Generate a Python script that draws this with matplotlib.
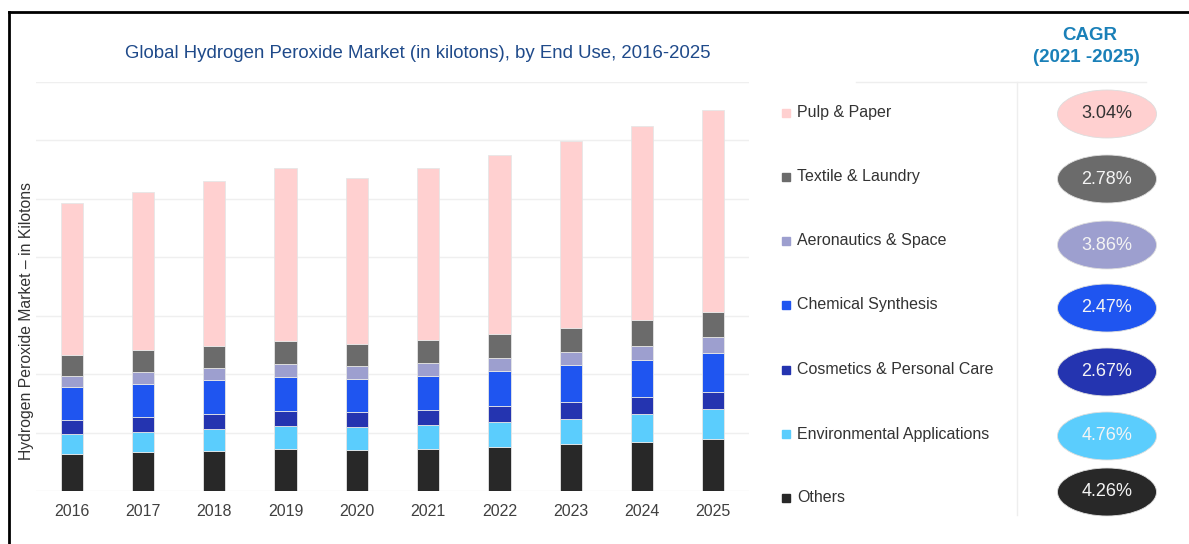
import numpy as np
import matplotlib
matplotlib.use("Agg")
import matplotlib.pyplot as plt
from matplotlib.patches import Ellipse, Rectangle
from matplotlib.lines import Line2D

plt.rcParams["font.family"] = ["Liberation Sans", "DejaVu Sans"]

YEARS = ["2016", "2017", "2018", "2019", "2020", "2021", "2022", "2023", "2024", "2025"]

# kilotons per end use, bottom segment first
OTHERS = [634, 663, 685, 724, 707, 724, 753, 800, 844, 890]
ENVIRONMENTAL = [342, 348, 372, 384, 384, 401, 423, 438, 474, 508]
COSMETICS = [245, 257, 257, 267, 257, 267, 274, 291, 286, 301]
CHEMICAL = [565, 565, 587, 582, 575, 582, 599, 623, 644, 657]
AERONAUTICS = [188, 211, 205, 217, 212, 212, 228, 223, 240, 274]
TEXTILE = [360, 372, 377, 394, 382, 399, 406, 411, 440, 433]
PULP = [2592, 2700, 2830, 2962, 2847, 2945, 3065, 3207, 3322, 3459]

SEGMENTS = ["Others", "Environmental Applications", "Cosmetics & Personal Care",
            "Chemical Synthesis", "Aeronautics & Space", "Textile & Laundry", "Pulp & Paper"]
CAGR = ["4.26%", "4.76%", "2.67%", "2.47%", "3.86%", "2.78%", "3.04%"]
COLORS = ["#282828", "#5bcdfd", "#2434b0", "#1f55f0", "#9d9fcf", "#6b6b6b", "#ffd0d0"]
VALUES = [OTHERS, ENVIRONMENTAL, COSMETICS, CHEMICAL, AERONAUTICS, TEXTILE, PULP]

W, H = 1189, 544
fig = plt.figure(figsize=(W / 100, H / 100), dpi=100)

# main stacked bar chart
ax = fig.add_axes([36 / W, 1 - 491 / H, (749 - 36) / W, (491 - 82) / H])
x = np.arange(len(YEARS))
bottom = np.zeros(len(YEARS))
for name, vals, col in zip(SEGMENTS, VALUES, COLORS):
    ax.bar(x, vals, 0.31, bottom=bottom, color=col, edgecolor="#e6e6e6",
           linewidth=0.6, zorder=3)
    bottom += np.array(vals)

ax.set_xlim(-0.5, 9.5)
ax.set_ylim(0, 7000)
ax.set_yticks(np.arange(0, 7001, 1000))
ax.yaxis.grid(True, color="#efefef", linewidth=1, zorder=0)
ax.set_yticklabels([])
ax.tick_params(axis="y", length=0)
ax.set_xticks(x)
ax.set_xticklabels(YEARS, fontsize=11.5, color="#404040")
ax.tick_params(axis="x", length=0, pad=9)
for s in ax.spines.values():
    s.set_visible(False)

fig.text(418 / W, 1 - 53 / H,
         "Global Hydrogen Peroxide Market (in kilotons), by End Use, 2016-2025",
         ha="center", va="center", fontsize=13.4, color="#1f4a8a")
fig.text(27 / W, 1 - 321 / H, "Hydrogen Peroxide Market \u2013 in Kilotons",
         rotation=90, ha="center", va="center", fontsize=11.3, color="#333333")

# overlay in pixel coordinates for legend, CAGR column and frame
ov = fig.add_axes([0, 0, 1, 1], facecolor="none")
ov.set_xlim(0, W)
ov.set_ylim(H, 0)
ov.axis("off")

ov.add_line(Line2D([9, W], [12, 12], color="black", linewidth=2))
ov.add_line(Line2D([9, 9], [12, H], color="black", linewidth=2))

ov.text(1090, 35, "CAGR", ha="center", va="center", fontsize=13.5,
        fontweight="bold", color="#1a80b8")
ov.text(1086, 57, "(2021 -2025)", ha="center", va="center", fontsize=13.5,
        fontweight="bold", color="#1a80b8")
ov.add_line(Line2D([856, 1146], [82, 82], color="#eeeeee", linewidth=1))
ov.add_line(Line2D([1017, 1017], [82, 515], color="#eeeeee", linewidth=1))

legend_y = [498, 434, 370, 305, 241, 177, 113]
ellipse_y = [492, 436, 372, 308, 245, 179, 114]
for name, col, rate, ly, ey in zip(SEGMENTS, COLORS, CAGR, legend_y, ellipse_y):
    ov.add_patch(Rectangle((782, ly - 4), 8, 8, color=col))
    ov.text(797, ly, name, ha="left", va="center", fontsize=11.5, color="#333333")
    ov.add_patch(Ellipse((1107, ey), 99, 48, facecolor=col, edgecolor="#dddddd",
                         linewidth=0.6))
    txt_col = "#333333" if name == "Pulp & Paper" else "#f4f4f4"
    ov.text(1107, ey, rate, ha="center", va="center", fontsize=13, color=txt_col)

fig.savefig("out.png", dpi=100)
